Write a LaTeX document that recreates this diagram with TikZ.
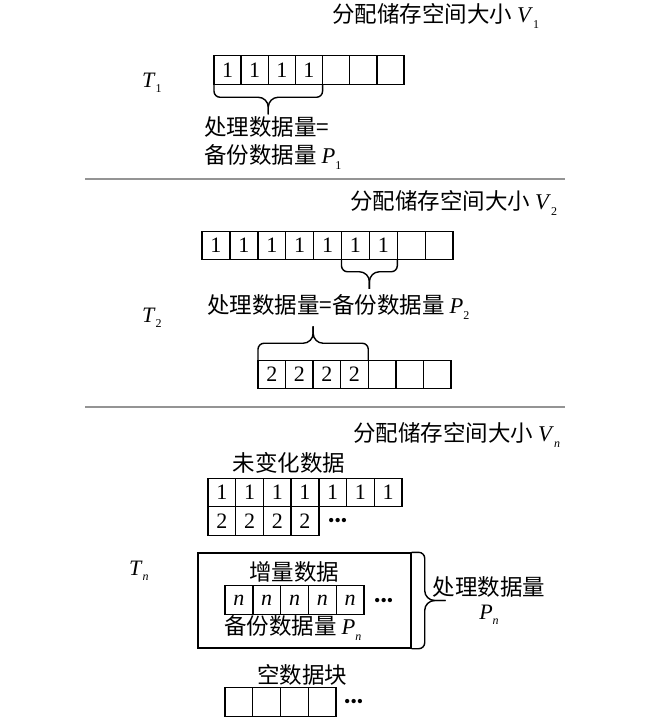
\documentclass[tikz,border=0pt]{standalone}
\usepackage{fontspec}
\setmainfont{Liberation Serif}
\newfontfamily\cjk{Noto Sans CJK SC}
\usetikzlibrary{calc}
\newcommand\lsub[1]{\raisebox{-0.5ex}{\fontsize{12}{12}\selectfont #1}}
\newcommand\ivar[1]{\textit{#1}}
% horizontal brace between two points at the same height: #3 arm offset, #4 tip offset (signed, y down)
\newcommand\hbrace[4]{%
  \coordinate (tmptip) at ($(#1)!0.5!(#2)+(0,#4)$);
  \draw[bracepath] (#1) [rounded corners=6pt] -- ++(0,#3) [rounded corners=10pt] -| (tmptip);
  \draw[bracepath] (#2) [rounded corners=6pt] -- ++(0,#3) [rounded corners=10pt] -| (tmptip);
}
% vertical brace between two points at the same x
\newcommand\vbrace[4]{%
  \coordinate (tmptip) at ($(#1)!0.5!(#2)+(#4,0)$);
  \draw[bracepath] (#1) [rounded corners=6pt] -- ++(#3,0) [rounded corners=10pt] |- (tmptip);
  \draw[bracepath] (#2) [rounded corners=6pt] -- ++(#3,0) [rounded corners=10pt] |- (tmptip);
}
\tikzset{
  cell/.style={draw, line width=1.4pt, inner sep=0pt, outer sep=0pt,
    minimum height=28.5pt, font=\fontsize{22}{22}\selectfont},
  lbl/.style={inner sep=0pt, font=\fontsize{22.5}{22.5}\selectfont\cjk},
  tlbl/.style={inner sep=0pt, font=\fontsize{22}{22}\selectfont},
  dots/.style={inner sep=0pt, font=\fontsize{18}{18}\selectfont},
  sep/.style={draw=black!42, line width=1.4pt},
  bracepath/.style={draw, line width=1.4pt, line join=round},
}
\begin{document}
\begin{tikzpicture}[x=1pt, y=-1pt]
\useasboundingbox (0,0) rectangle (650,723);

% ---------- T1 ----------
\node[lbl, anchor=west] (v1) at (332,16) {分配储存空间大小 \normalfont\ivar{V}\lsub{1}};
\node[tlbl, anchor=west] (t1) at (142,83) {\ivar{T}\lsub{1}};
\foreach \i/\t in {1/1,2/1,3/1,4/1,5/,6/,7/} {
  \node[cell, minimum width=27.14pt] (a\i) at ({214+27.14*(\i-0.5)},70) {\t};
}
\hbrace{a1.south west}{a4.south east}{13}{30}
\node[lbl, anchor=west] (p1a) at (204,127) {处理数据量=};
\node[lbl, anchor=west] (p1b) at (204,157) {备份数据量 \normalfont\ivar{P}\lsub{1}};

\coordinate (s1l) at (85,179);
\coordinate (s1r) at (565,179);
\draw[sep] (s1l) -- (s1r);

% ---------- T2 ----------
\node[lbl, anchor=west] (v2) at (350,203) {分配储存空间大小 \normalfont\ivar{V}\lsub{2}};
\node[tlbl, anchor=west] (t2) at (142,318) {\ivar{T}\lsub{2}};
\foreach \i/\t in {1/1,2/1,3/1,4/1,5/1,6/1,7/1,8/,9/} {
  \node[cell, minimum width=27.9pt] (b\i) at ({202+27.9*(\i-0.5)},245.5) {\t};
}
\hbrace{b6.south west}{b7.south east}{12}{29}
\node[lbl, anchor=west] (p2) at (207,307) {处理数据量=备份数据量 \normalfont\ivar{P}\lsub{2}};
\foreach \i/\t in {1/2,2/2,3/2,4/2,5/,6/,7/} {
  \node[cell, minimum width=27.57pt] (c\i) at ({258+27.57*(\i-0.5)},374.5) {\t};
}
\hbrace{c1.north west}{c4.north east}{-17}{-34}

\coordinate (s2l) at (85,407);
\coordinate (s2r) at (565,407);
\draw[sep] (s2l) -- (s2r);

% ---------- Tn ----------
\node[lbl, anchor=west] (vn) at (353,435) {分配储存空间大小 \normalfont\ivar{V}\lsub{\textit{n}}};
\node[tlbl, anchor=west] (tn) at (129,571) {\ivar{T}\lsub{\textit{n}}};
\node[lbl] (unch) at (289,463) {未变化数据};
\foreach \i in {1,...,7} {
  \node[cell, minimum width=27.7pt] (d\i) at ({208+27.7*(\i-0.5)},492.5) {1};
}
\foreach \i in {1,...,4} {
  \node[cell, minimum width=27.7pt] (e\i) at ({208+27.7*(\i-0.5)},521) {2};
}
\node[dots, anchor=west] (edots) at (328,522) {•••};

\node[draw, line width=1.4pt, inner sep=0pt, minimum width=213pt, minimum height=95pt] (box) at (304.5,600.5) {};
\node[lbl] (incr) at (294,572) {增量数据};
\foreach \i in {1,...,5} {
  \node[cell, minimum width=27.8pt] (f\i) at ({225+27.8*(\i-0.5)},600) {\textit{n}};
}
\node[dots, anchor=west] (fdots) at (374,602) {•••};
\node[lbl, anchor=west] (bkn) at (224,628) {备份数据量 \normalfont\ivar{P}\lsub{\textit{n}}};
\vbrace{box.north east}{box.south east}{13}{34}
\node[lbl] (procn) at (489,587) {处理数据量};
\node[tlbl] (pn) at (489,615) {\ivar{P}\lsub{\textit{n}}};

\node[lbl] (empty) at (302,675) {空数据块};
\foreach \i in {1,...,4} {
  \node[cell, minimum width=27.75pt] (g\i) at ({225+27.75*(\i-0.5)},702) {};
}
\node[dots, anchor=west] (gdots) at (344,703) {•••};
\end{tikzpicture}
\end{document}
